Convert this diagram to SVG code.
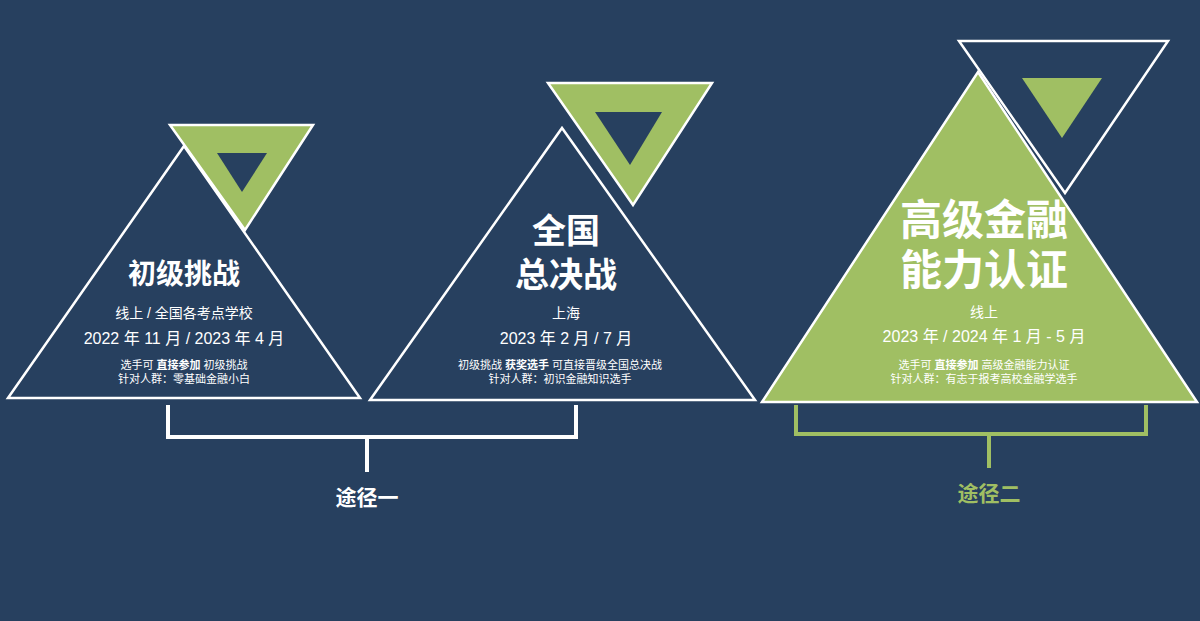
<svg xmlns="http://www.w3.org/2000/svg" width="1200" height="621" viewBox="0 0 1200 621">
<style>
.t{font-family:"Liberation Sans","Noto Sans CJK SC",sans-serif;fill:#fff;text-anchor:middle}
.b{font-weight:bold}
.tri{stroke:#fff;stroke-width:2.5;stroke-linejoin:miter}
.dk{fill:#27405f}.gr{fill:#a0bf63}
.br{fill:none;stroke-width:4}
</style>
<rect width="1200" height="621" fill="#27405f"/>
<g id="node1">
<polygon class="tri dk" points="8,398 184,146 360,398"/>
<polygon class="tri gr" points="170,125 313,125 245,230"/>
<polygon class="dk" points="217,153 267,153 242,192"/>
<text class="t b" x="184" y="284" font-size="28">初级挑战</text>
<text class="t" x="184" y="318" font-size="14">线上 / 全国各考点学校</text>
<text class="t" x="184" y="344" font-size="16">2022 年 11 月 / 2023 年 4 月</text>
<text class="t" x="184" y="369" font-size="11">选手可 <tspan class="b">直接参加</tspan> 初级挑战</text>
<text class="t" x="184" y="383" font-size="11">针对人群：零基础金融小白</text>
</g>
<g id="node2">
<polygon class="tri dk" points="370,400 562,128 755,400"/>
<polygon class="tri gr" points="548,83 712,83 633,205"/>
<polygon class="dk" points="595,112 662,112 630,165"/>
<text class="t b" x="566" y="243" font-size="34">全国</text>
<text class="t b" x="566" y="287" font-size="34">总决战</text>
<text class="t" x="566" y="318" font-size="14">上海</text>
<text class="t" x="566" y="344" font-size="16">2023 年 2 月 / 7 月</text>
<text class="t" x="560" y="369" font-size="11">初级挑战 <tspan class="b">获奖选手</tspan> 可直接晋级全国总决战</text>
<text class="t" x="560" y="383" font-size="11">针对人群：初识金融知识选手</text>
</g>
<g id="node3">
<polygon class="tri gr" points="762,402 978,72 1197,402"/>
<polygon class="tri dk" points="959,41 1168,41 1065,193"/>
<polygon class="gr" points="1022,78 1102,78 1062,138"/>
<text class="t b" x="984" y="235" font-size="42">高级金融</text>
<text class="t b" x="984" y="285" font-size="42">能力认证</text>
<text class="t" x="984" y="317" font-size="14">线上</text>
<text class="t" x="984" y="342" font-size="16">2023 年 / 2024 年 1 月 - 5 月</text>
<text class="t" x="984" y="369" font-size="11">选手可 <tspan class="b">直接参加</tspan> 高级金融能力认证</text>
<text class="t" x="984" y="383" font-size="11">针对人群：有志于报考高校金融学选手</text>
</g>
<g id="connectors">
<path class="br" stroke="#fff" d="M168,405V437H576V405M367,437V472"/>
<path class="br" stroke="#a0bf63" d="M796,405V434H1146V405M989,434V468"/>
</g>
<text class="t b" x="367" y="505" font-size="21">途径一</text>
<text class="t b" x="989" y="501" font-size="21" style="fill:#a0bf63">途径二</text>
</svg>
